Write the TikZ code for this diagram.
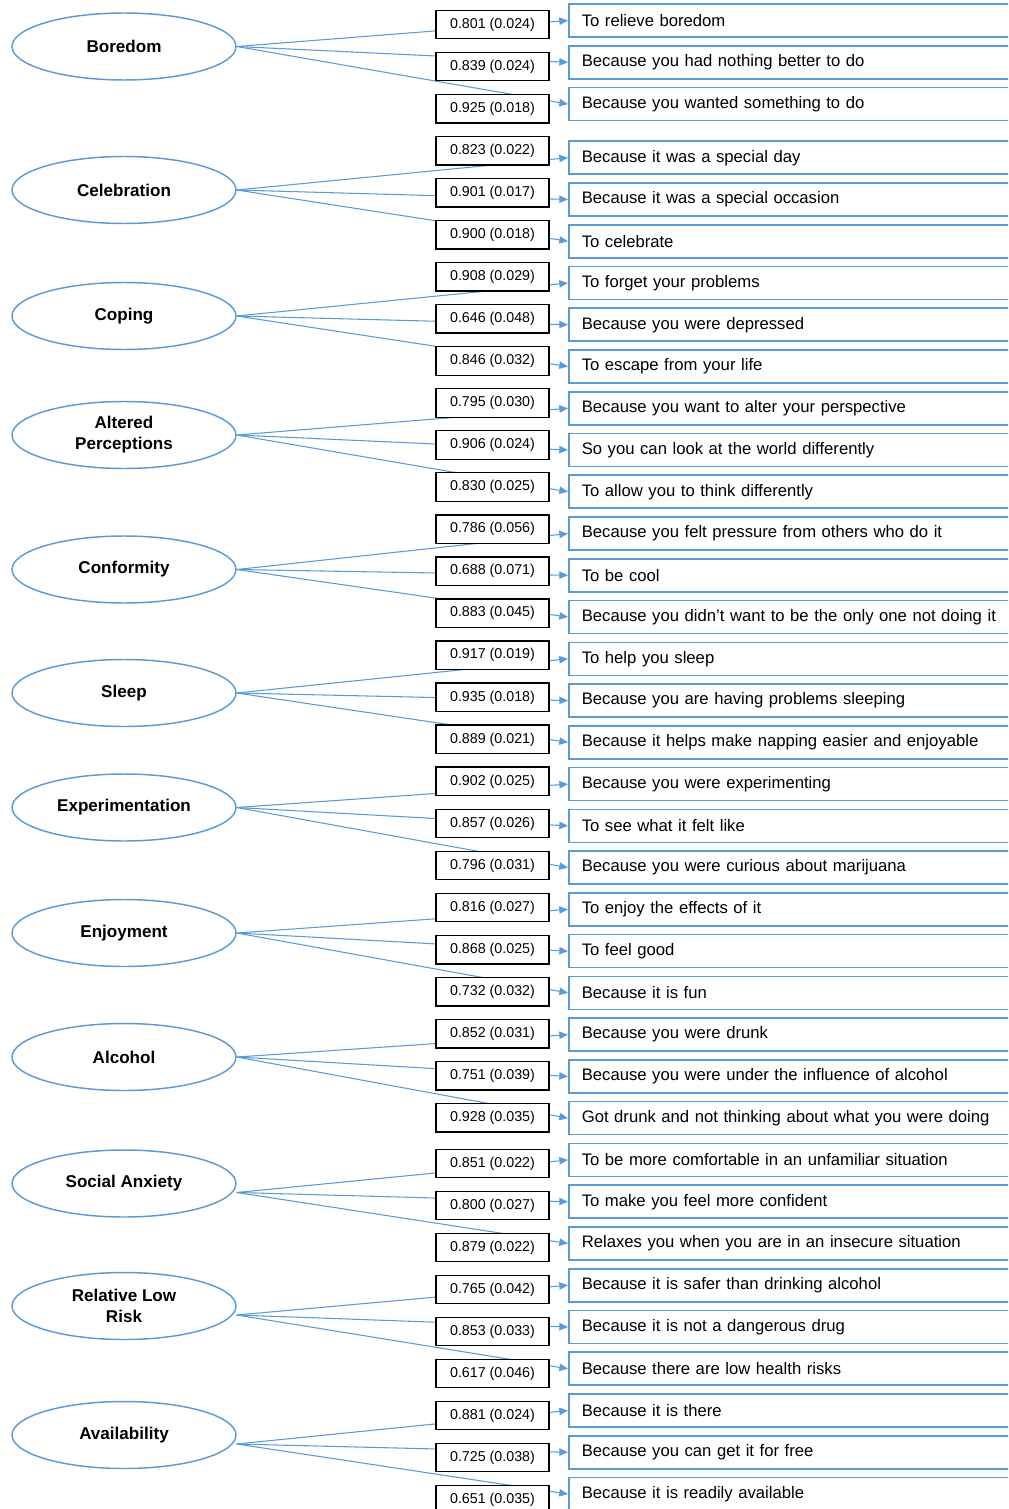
\documentclass[tikz,border=0pt]{standalone}
\usepackage{fontspec}
\setmainfont{Liberation Sans}
\usetikzlibrary{shapes.geometric,arrows.meta}
\definecolor{lblue}{HTML}{5B9BD5}
\pgfdeclarelayer{bg}
\pgfsetlayers{bg,main}
\begin{document}
\begin{tikzpicture}[x=0.75pt,y=-0.75pt,
  factor/.style={ellipse,draw=lblue,line width=1.1pt,minimum width=168pt,minimum height=50.25pt,inner sep=0pt,
    font=\fontsize{12.8}{15.75}\selectfont\bfseries,align=center},
  indbox/.style={draw=lblue,line width=1.2pt,anchor=west,minimum height=24.75pt,text width=327pt,
    inner xsep=9.75pt,inner ysep=0pt,align=left,font=\fontsize{12.5}{15}\selectfont},
  coefbox/.style={draw=black,line width=1pt,fill=white,minimum width=84.75pt,minimum height=21.4pt,
    inner sep=0pt,font=\fontsize{10.7}{12}\selectfont},
  conn/.style={draw=lblue,line width=0.8pt,-{Triangle[length=6.5pt,width=5.5pt]}}]
\useasboundingbox (0,0) rectangle (1008,1509);
\clip (0,0) rectangle (1008,1509);
% factors
\node[factor] (B)  at (124,46.5)  {Boredom};
\node[factor] (Ce) at (124,190)   {Celebration};
\node[factor] (Co) at (124,316)   {Coping};
\node[factor] (AP) at (124,435)   {Altered\\Perceptions};
\node[factor] (Cf) at (124,569.5) {Conformity};
\node[factor] (Sl) at (124,693)   {Sleep};
\node[factor] (Ex) at (124,807.5) {Experimentation};
\node[factor] (En) at (124,933)   {Enjoyment};
\node[factor] (Al) at (124,1057)  {Alcohol};
\node[factor] (SA) at (124,1183.5){Social Anxiety};
\node[factor] (RL) at (124,1306)  {Relative Low\\Risk};
\node[factor] (Av) at (124,1435)  {Availability};
\foreach \n in {B,Ce,Co,AP,Cf,Sl,Ex,En,Al} \coordinate (o\n) at (\n.east);
\foreach \n in {SA,RL,Av} \coordinate (o\n) at ([yshift=-6.75pt]\n.east);
% indicators
\foreach \i/\f/\t/\c in {
 0/B/To relieve boredom/0.801 (0.024),
 1/B/Because you had nothing better to do/0.839 (0.024),
 2/B/Because you wanted something to do/0.925 (0.018),
 3/Ce/Because it was a special day/0.823 (0.022),
 4/Ce/Because it was a special occasion/0.901 (0.017),
 5/Ce/To celebrate/0.900 (0.018),
 6/Co/To forget your problems/0.908 (0.029),
 7/Co/Because you were depressed/0.646 (0.048),
 8/Co/To escape from your life/0.846 (0.032),
 9/AP/Because you want to alter your perspective/0.795 (0.030),
 10/AP/So you can look at the world differently/0.906 (0.024),
 11/AP/To allow you to think differently/0.830 (0.025),
 12/Cf/Because you felt pressure from others who do it/0.786 (0.056),
 13/Cf/To be cool/0.688 (0.071),
 14/Cf/Because you didn’t want to be the only one not doing it/0.883 (0.045),
 15/Sl/To help you sleep/0.917 (0.019),
 16/Sl/Because you are having problems sleeping/0.935 (0.018),
 17/Sl/Because it helps make napping easier and enjoyable/0.889 (0.021),
 18/Ex/Because you were experimenting/0.902 (0.025),
 19/Ex/To see what it felt like/0.857 (0.026),
 20/Ex/Because you were curious about marijuana/0.796 (0.031),
 21/En/To enjoy the effects of it/0.816 (0.027),
 22/En/To feel good/0.868 (0.025),
 23/En/Because it is fun/0.732 (0.032),
 24/Al/Because you were drunk/0.852 (0.031),
 25/Al/Because you were under the influence of alcohol/0.751 (0.039),
 26/Al/Got drunk and not thinking about what you were doing/0.928 (0.035),
 27/SA/To be more comfortable in an unfamiliar situation/0.851 (0.022),
 28/SA/To make you feel more confident/0.800 (0.027),
 29/SA/Relaxes you when you are in an insecure situation/0.879 (0.022),
 30/RL/Because it is safer than drinking alcohol/0.765 (0.042),
 31/RL/Because it is not a dangerous drug/0.853 (0.033),
 32/RL/Because there are low health risks/0.617 (0.046),
 33/Av/Because it is there/0.881 (0.024),
 34/Av/Because you can get it for free/0.725 (0.038),
 35/Av/Because it is readily available/0.651 (0.035)} {
  \pgfmathsetmacro\iy{(\i<3) ? (20.5+41.8*\i) : (157.7+41.76*(\i-3))}
  \pgfmathsetmacro\cy{(\i<27) ? (24.5+42.05*\i) : (1163.5+42*(\i-27))}
  \node[indbox] (I\i) at (568,\iy) {\t};
  \begin{pgfonlayer}{bg}
    \draw[conn] (o\f) -- (I\i.west);
  \end{pgfonlayer}
  \node[coefbox] (C\i) at (492.5,\cy) {\c};
}
\end{tikzpicture}
\end{document}
